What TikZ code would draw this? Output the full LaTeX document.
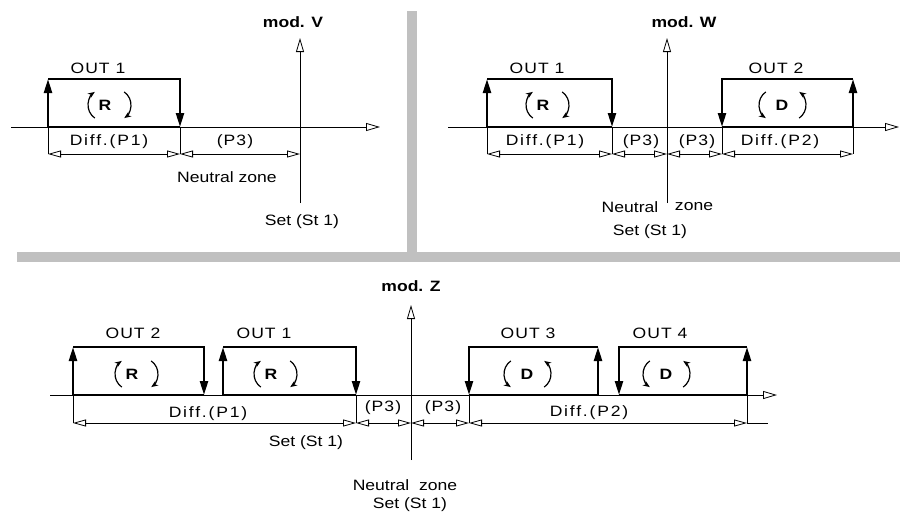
\documentclass[tikz,border=0pt]{standalone}
\usepackage{fontspec}
\setmainfont{Liberation Sans}[FakeStretch=1.17]
\newfontfamily\outfont{Liberation Sans}[FakeStretch=1.17, LetterSpace=7]
\newfontfamily\difffont{Liberation Sans}[FakeStretch=1.17, LetterSpace=12]
\usepackage{tikz}
\usetikzlibrary{arrows.meta}

\definecolor{divider}{RGB}{192,192,192}

% rotation sign around a letter node: R = reverse, D = direct
\newcommand{\revsign}[1]{
    \draw[turn] ([xshift=-1]#1.center) ++(235:16) arc[start angle=235, end angle=125, radius=16];
    \draw[turn] ([xshift=10]#1.center) ++(55:16) arc[start angle=55, end angle=-55, radius=16];
}
\newcommand{\dirsign}[1]{
    \draw[turn] ([xshift=-7]#1.center) ++(125:16) arc[start angle=125, end angle=235, radius=16];
    \draw[turn] ([xshift=8]#1.center) ++(-55:16) arc[start angle=-55, end angle=55, radius=16];
}

\begin{document}
\begin{tikzpicture}[
        x=1pt, y=1pt,
        % thin lines: axes, dimensions
        axis/.style={
            line width=0.8pt,
            -{Triangle[open, length=14pt, width=8pt]}
        },
        dim/.style={
            line width=0.8pt,
            {Triangle[open, length=13pt, width=7pt]}-{Triangle[open, length=13pt, width=7pt]}
        },
        guide/.style={line width=0.8pt},
        % the output band
        outline/.style={line width=2.4pt},
        outarrow/.style={
            line width=2.4pt,
            -{Triangle[length=14pt, width=8pt]}
        },
        % the little rotation arrows
        turn/.style={line width=1.2pt, -{Stealth[length=7pt, width=5.5pt]}},
        % text
        lbl/.style={inner sep=0pt, font=\fontsize{15}{17}\selectfont},
        outlbl/.style={inner sep=0pt, font=\fontsize{15}{17}\selectfont\outfont},
        difflbl/.style={inner sep=0pt, font=\fontsize{15}{17}\selectfont\difffont},
        title/.style={lbl, font=\fontsize{15}{17}\selectfont\bfseries},
        sign/.style={lbl, font=\fontsize{15}{17}\selectfont\bfseries}
    ]

    \useasboundingbox (0,0) rectangle (900,-512);

    % grey dividers
    \fill[divider] (407,-11) rectangle (417,-262);
    \fill[divider] (17,-252) rectangle (900,-262);

    % ---------- mod. V ----------
    \draw[axis] (11,-127) -- (380,-127);
    \draw[axis] (300,-203) -- (300,-38);
    \node[title] (modV) at (293,-22) {mod. V};

    % ---------- mod. W ----------
    \draw[axis] (448,-127) -- (899,-127);
    \draw[axis] (667,-203) -- (667,-38);
    \node[title] (modW) at (684,-22) {mod. W};

    % ---------- mod. Z ----------
    \draw[axis] (50,-395) -- (777,-395);
    \draw[axis] (411,-460) -- (411,-305);
    \node[title] (modZ) at (411,-286) {mod. Z};

    % reverse outputs
    \foreach \xa/\xb/\ybase/\ytop in {48/180/-127/-79, 487/612/-127/-79, 73/204/-395/-347, 223/356/-395/-347}
    {
        \draw[outline] (\xa,\ybase) -- (\xb,\ybase);
        \draw[outarrow] (\xa,\ybase) -- (\xa,\ytop);
        \draw[outarrow] (\xa,\ytop) -| (\xb,\ybase);
    }

    % direct outputs
    \foreach \xa/\xb/\ybase/\ytop in {722/853/-127/-79, 469/598/-395/-347, 619/747/-395/-347}
    {
        \draw[outline] (\xa,\ybase) -- (\xb,\ybase);
        \draw[outarrow] (\xb,\ytop) -| (\xa,\ybase);
        \draw[outarrow] (\xb,\ybase) -- (\xb,\ytop);
    }

    % output names
    \foreach \x/\y/\name/\txt in {98/-68/outV1/OUT 1, 537/-68/outW1/OUT 1, 776/-68/outW2/OUT 2,
                                  133/-333/outZ2/OUT 2, 264/-333/outZ1/OUT 1, 528/-333/outZ3/OUT 3, 660/-333/outZ4/OUT 4}
    {
        \node[outlbl] (\name) at (\x,\y) {\txt};
    }

    % rotation signs
    \foreach \x/\y/\name in {105/-105/rV1, 543/-105/rW1, 132/-374/rZ2, 271/-374/rZ1}
    {
        \node[sign] (\name) at (\x,\y) {R};
        \revsign{\name}
    }
    \foreach \x/\y/\name in {782/-105/dW2, 527/-374/dZ3, 666/-374/dZ4}
    {
        \node[sign] (\name) at (\x,\y) {D};
        \dirsign{\name}
    }

    % guide lines down to the dimensions
    \foreach \x in {48, 180, 487, 612, 722, 853}
        \draw[guide] (\x,-127) -- (\x,-154);
    \foreach \x in {73, 356, 469, 747}
        \draw[guide] (\x,-395) -- (\x,-423);

    % dimensions
    \foreach \xa/\xb in {48/180, 180/300, 487/612, 612/667, 667/722, 722/853}
        \draw[dim] (\xa,-154) -- (\xb,-154);
    \foreach \xa/\xb in {73/356, 356/411, 411/469, 469/747}
        \draw[dim] (\xa,-423) -- (\xb,-423);
    \draw[guide] (747,-423) -- (768,-423);

    % dimension texts
    \node[difflbl] (diffV1) at (109,-142) {Diff.(P1)};
    \node[outlbl] (ncV) at (235,-142) {(P3)};
    \node[difflbl] (diffW1) at (545,-142) {Diff.(P1)};
    \node[outlbl] (ncWa) at (641,-142) {(P3)};
    \node[outlbl] (ncWb) at (697,-142) {(P3)};
    \node[difflbl] (diffW2) at (780,-142) {Diff.(P2)};
    \node[difflbl] (diffZ1) at (208,-414) {Diff.(P1)};
    \node[outlbl] (ncZa) at (383,-408) {(P3)};
    \node[outlbl] (ncZb) at (443,-408) {(P3)};
    \node[difflbl] (diffZ2) at (589,-413) {Diff.(P2)};

    % zone and set texts
    \node[lbl] (nzV) at (227,-177) {Neutral zone};
    \node[lbl] (setV) at (302,-222) {Set (St 1)};
    \node[lbl] (nzWa) at (630,-207) {Neutral};
    \node[lbl] (nzWb) at (694,-207) {zone};
    \node[lbl] (setW) at (650,-232) {Set (St 1)};
    \node[lbl] (setZa) at (306,-443) {Set (St 1)};
    \node[lbl] (nzZ) at (405,-485) {Neutral\ \ zone};
    \node[lbl] (setZb) at (410,-505) {Set (St 1)};

\end{tikzpicture}
\end{document}
